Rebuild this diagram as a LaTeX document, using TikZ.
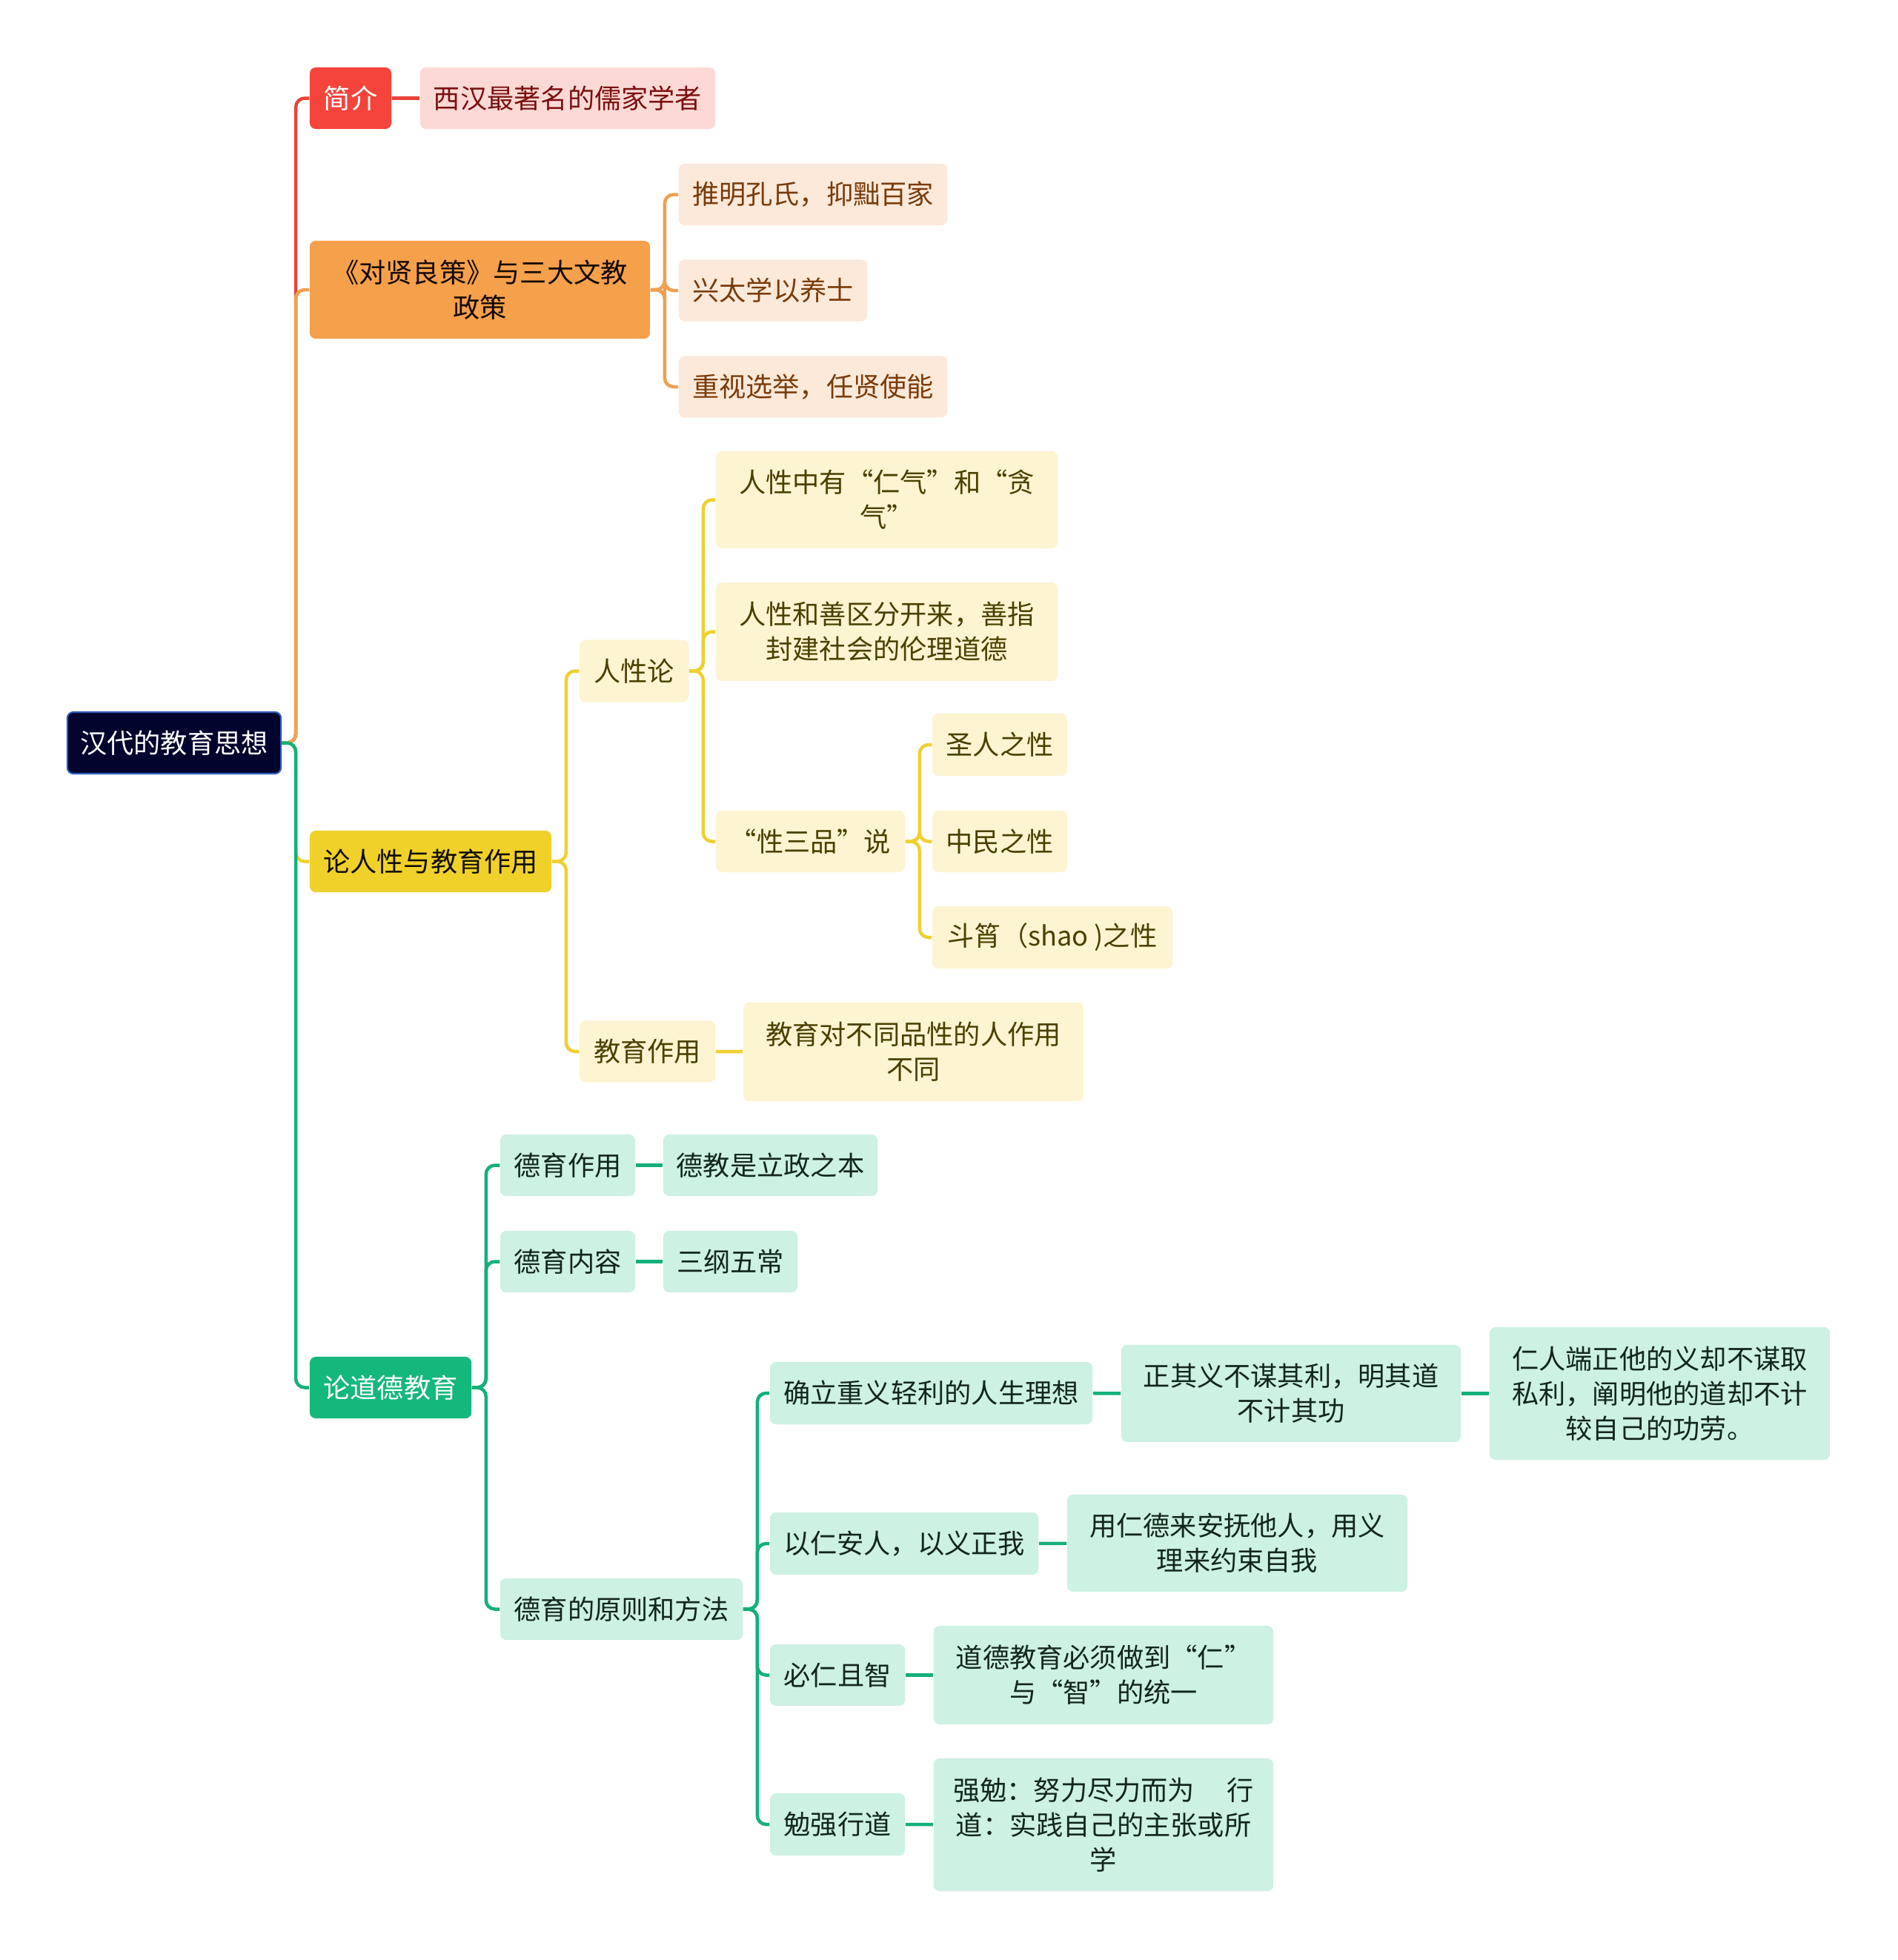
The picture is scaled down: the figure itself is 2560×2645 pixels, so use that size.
\documentclass[tikz,border=0pt]{standalone}
\usepackage{fontspec}
\setmainfont{Noto Sans CJK SC}
\definecolor{rootfill}{HTML}{03042E}
\definecolor{rootline}{HTML}{2E5CB8}
\definecolor{redfill}{HTML}{F5443B}
\definecolor{redlight}{HTML}{FDD9D6}
\definecolor{redtext}{HTML}{7A1010}
\definecolor{redline}{HTML}{E8433A}
\definecolor{orangefill}{HTML}{F5A04B}
\definecolor{orangelight}{HTML}{FDE9DA}
\definecolor{orangetext}{HTML}{7A3B0A}
\definecolor{orangeline}{HTML}{F0A050}
\definecolor{yellowfill}{HTML}{F0D12A}
\definecolor{yellowlight}{HTML}{FDF4D2}
\definecolor{yellowtext}{HTML}{4A4000}
\definecolor{yellowline}{HTML}{EFD030}
\definecolor{greenfill}{HTML}{14B87A}
\definecolor{greenlight}{HTML}{CDF1E2}
\definecolor{greentext}{HTML}{12261C}
\definecolor{greenline}{HTML}{14B07A}

\begin{document}
\begin{tikzpicture}[
  x=0.01cm, y=-0.01cm,
  box/.style={rectangle, rounded corners=0.08cm, inner sep=0pt, align=center, font=\fontsize{10.3pt}{13.4pt}\selectfont},
  wh/.style 2 args={minimum width=#1cm, minimum height=#2cm},
  rootbox/.style={box, fill=rootfill, draw=rootline, line width=0.6pt, text=white},
  redmain/.style={box, fill=redfill, text=white},
  redsub/.style={box, fill=redlight, text=redtext},
  orangemain/.style={box, fill=orangefill, text=black!85!orangetext},
  orangesub/.style={box, fill=orangelight, text=orangetext},
  yellowmain/.style={box, fill=yellowfill, text=black!80!yellowtext},
  yellowsub/.style={box, fill=yellowlight, text=yellowtext},
  greenmain/.style={box, fill=greenfill, text=white},
  greensub/.style={box, fill=greenlight, text=greentext},
  link/.style={line width=0.045cm, rounded corners=0.12cm}
]
  \useasboundingbox (0,0) rectangle (2560,2645);

  \node[rootbox, wh={2.88}{0.83}] (root) at (235,1002.5) {汉代的教育思想};

  % first level
  \node[redmain, wh={1.10}{0.83}] (jianjie) at (473,132.5) {简介};
  \node[orangemain, wh={4.59}{1.32}] (duice) at (647.5,391) {《对贤良策》与三大文教\\政策};
  \node[yellowmain, wh={3.26}{0.83}] (lunrenxing) at (581,1162.5) {论人性与教育作用};
  \node[greenmain, wh={2.18}{0.83}] (lundaode) at (527,1872.5) {论道德教育};

  % 简介
  \node[redsub, wh={3.98}{0.83}] (xihan) at (766,132.5) {西汉最著名的儒家学者};

  % 对贤良策
  \node[orangesub, wh={3.62}{0.83}] (tuiming) at (1097,262.5) {推明孔氏，抑黜百家};
  \node[orangesub, wh={2.54}{0.83}] (taixue) at (1043,392) {兴太学以养士};
  \node[orangesub, wh={3.62}{0.83}] (xuanju) at (1097,522) {重视选举，任贤使能};

  % 论人性与教育作用
  \node[yellowsub, wh={1.47}{0.84}] (renxinglun) at (855.5,905.5) {人性论};
  \node[yellowsub, wh={1.83}{0.83}] (jiaoyuzy) at (873.5,1419) {教育作用};
  \node[yellowsub, wh={4.61}{1.31}] (renqi) at (1196.5,674.5) {人性中有“仁气”和“贪\\气”};
  \node[yellowsub, wh={4.61}{1.33}] (shanzhi) at (1196.5,852.5) {人性和善区分开来，善指\\封建社会的伦理道德};
  \node[yellowsub, wh={2.55}{0.83}] (sanpin) at (1093.5,1135.5) {“性三品”说};
  \node[yellowsub, wh={1.82}{0.84}] (shengren) at (1349,1005) {圣人之性};
  \node[yellowsub, wh={1.82}{0.83}] (zhongmin) at (1349,1135.5) {中民之性};
  \node[yellowsub, wh={3.24}{0.84}] (doushao) at (1420,1265) {斗筲（shao )之性};
  \node[yellowsub, wh={4.59}{1.33}] (butong) at (1232.5,1419.5) {教育对不同品性的人作用\\不同};

  % 论道德教育
  \node[greensub, wh={1.82}{0.83}] (deyuzy) at (766,1572.5) {德育作用};
  \node[greensub, wh={2.89}{0.83}] (lizheng) at (1039.5,1572.5) {德教是立政之本};
  \node[greensub, wh={1.82}{0.83}] (deyunr) at (766,1702.5) {德育内容};
  \node[greensub, wh={1.81}{0.83}] (sangang) at (985.5,1702.5) {三纲五常};
  \node[greensub, wh={3.27}{0.83}] (yuanze) at (838.5,2171.5) {德育的原则和方法};
  \node[greensub, wh={4.35}{0.84}] (queli) at (1256.5,1880) {确立重义轻利的人生理想};
  \node[greensub, wh={4.58}{1.31}] (zhengqi) at (1742,1880.5) {正其义不谋其利，明其道\\不计其功};
  \node[greensub, wh={4.59}{1.79}] (renren) at (2239.5,1880.5) {仁人端正他的义却不谋取\\私利，阐明他的道却不计\\较自己的功劳。};
  \node[greensub, wh={3.62}{0.84}] (yiren) at (1220,2083) {以仁安人，以义正我};
  \node[greensub, wh={4.59}{1.31}] (yongren) at (1669.5,2082.5) {用仁德来安抚他人，用义\\理来约束自我};
  \node[greensub, wh={1.82}{0.83}] (renzhi) at (1130,2260.5) {必仁且智};
  \node[greensub, wh={4.58}{1.33}] (tongyi) at (1489,2260.5) {道德教育必须做到“仁”\\与“智”的统一};
  \node[greensub, wh={1.82}{0.84}] (mianqiang) at (1130,2462) {勉强行道};
  \node[greensub, wh={4.58}{1.79}] (xingdao) at (1489,2462.5) {强勉：努力尽力而为\hspace{1.2em}行\\道：实践自己的主张或所\\学};

  % connectors
  \draw[link, redline] (root.east) -- ++(19,0) |- (jianjie.west);
  \draw[link, redline] (jianjie) -- (xihan);

  \draw[link, orangeline] (root.east) -- ++(19,0) |- (duice.west);
  \foreach \c in {tuiming, taixue, xuanju}
    \draw[link, orangeline] (duice.east) -- ++(19,0) |- (\c.west);

  \draw[link, yellowline] (root.east) -- ++(19,0) |- (lunrenxing.west);
  \foreach \c in {renxinglun, jiaoyuzy}
    \draw[link, yellowline] (lunrenxing.east) -- ++(19,0) |- (\c.west);
  \foreach \c in {renqi, shanzhi, sanpin}
    \draw[link, yellowline] (renxinglun.east) -- ++(19,0) |- (\c.west);
  \foreach \c in {shengren, zhongmin, doushao}
    \draw[link, yellowline] (sanpin.east) -- ++(19,0) |- (\c.west);
  \draw[link, yellowline] (jiaoyuzy) -- (butong);

  \draw[link, greenline] (root.east) -- ++(19,0) |- (lundaode.west);
  \foreach \c in {deyuzy, deyunr, yuanze}
    \draw[link, greenline] (lundaode.east) -- ++(19,0) |- (\c.west);
  \draw[link, greenline] (deyuzy) -- (lizheng);
  \draw[link, greenline] (deyunr) -- (sangang);
  \foreach \c in {queli, yiren, renzhi, mianqiang}
    \draw[link, greenline] (yuanze.east) -- ++(19,0) |- (\c.west);
  \draw[link, greenline] (queli) -- (zhengqi);
  \draw[link, greenline] (zhengqi) -- (renren);
  \draw[link, greenline] (yiren) -- (yongren);
  \draw[link, greenline] (renzhi) -- (tongyi);
  \draw[link, greenline] (mianqiang) -- (xingdao);
\end{tikzpicture}
\end{document}
